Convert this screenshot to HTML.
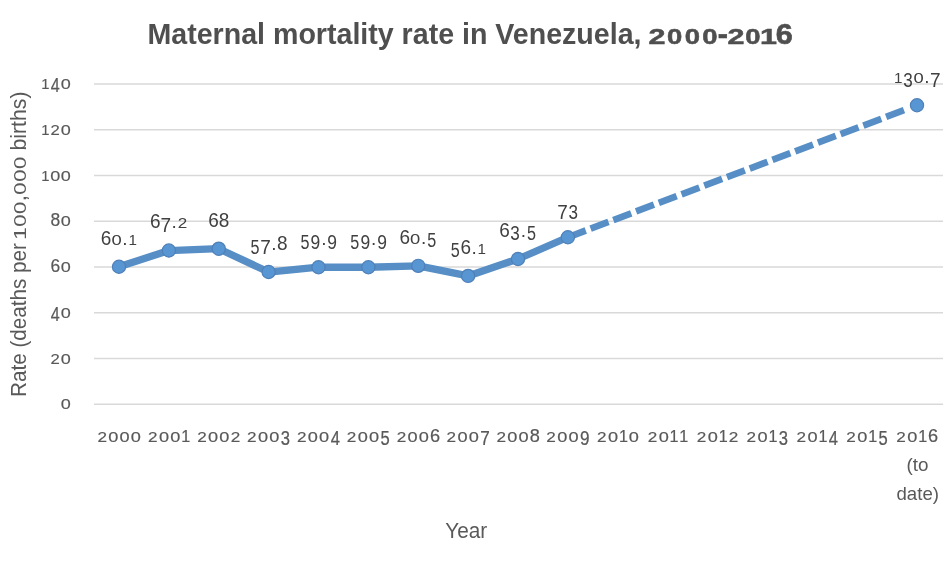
<!DOCTYPE html>
<html><head><meta charset="utf-8"><style>
html,body{margin:0;padding:0;background:#fff;width:946px;height:568px;overflow:hidden}
svg{display:block;will-change:transform;font-family:"Liberation Sans",sans-serif}
</style></head><body>
<svg width="946" height="568" viewBox="0 0 946 568">
<rect width="946" height="568" fill="#fff"/>
<text x="445.2" y="538.2" font-size="22.5" fill="#595959" textLength="42" lengthAdjust="spacingAndGlyphs">Year</text>
<text x="906.5" y="470.7" font-size="19" fill="#595959" textLength="22" lengthAdjust="spacingAndGlyphs">(to</text>
<text x="896.5" y="500" font-size="19" fill="#595959" textLength="42.5" lengthAdjust="spacingAndGlyphs">date)</text>
<line x1="94" y1="84.00" x2="943" y2="84.00" stroke="#d9d9d9" stroke-width="1.6"/>
<line x1="94" y1="129.75" x2="943" y2="129.75" stroke="#d9d9d9" stroke-width="1.6"/>
<line x1="94" y1="175.50" x2="943" y2="175.50" stroke="#d9d9d9" stroke-width="1.6"/>
<line x1="94" y1="221.25" x2="943" y2="221.25" stroke="#d9d9d9" stroke-width="1.6"/>
<line x1="94" y1="267.00" x2="943" y2="267.00" stroke="#d9d9d9" stroke-width="1.6"/>
<line x1="94" y1="312.75" x2="943" y2="312.75" stroke="#d9d9d9" stroke-width="1.6"/>
<line x1="94" y1="358.50" x2="943" y2="358.50" stroke="#d9d9d9" stroke-width="1.6"/>
<line x1="94" y1="404.25" x2="943" y2="404.25" stroke="#d9d9d9" stroke-width="1.6"/>
<path d="M119.00,266.77 L168.88,250.53 L218.75,248.70 L268.62,272.03 L318.50,267.23 L368.38,267.23 L418.25,265.86 L468.12,275.92 L518.00,258.99 L567.88,237.26" fill="none" stroke="#568ec5" stroke-width="7.3" stroke-linejoin="round"/>
<line x1="567.88" y1="237.26" x2="905.50" y2="109.62" stroke="#568ec5" stroke-width="6.7" stroke-dasharray="19.1 5.2"/>
<circle cx="119.00" cy="266.77" r="6.6" fill="#5895d3" stroke="#4f80b8" stroke-width="1.2"/>
<circle cx="168.88" cy="250.53" r="6.6" fill="#5895d3" stroke="#4f80b8" stroke-width="1.2"/>
<circle cx="218.75" cy="248.70" r="6.6" fill="#5895d3" stroke="#4f80b8" stroke-width="1.2"/>
<circle cx="268.62" cy="272.03" r="6.6" fill="#5895d3" stroke="#4f80b8" stroke-width="1.2"/>
<circle cx="318.50" cy="267.23" r="6.6" fill="#5895d3" stroke="#4f80b8" stroke-width="1.2"/>
<circle cx="368.38" cy="267.23" r="6.6" fill="#5895d3" stroke="#4f80b8" stroke-width="1.2"/>
<circle cx="418.25" cy="265.86" r="6.6" fill="#5895d3" stroke="#4f80b8" stroke-width="1.2"/>
<circle cx="468.12" cy="275.92" r="6.6" fill="#5895d3" stroke="#4f80b8" stroke-width="1.2"/>
<circle cx="518.00" cy="258.99" r="6.6" fill="#5895d3" stroke="#4f80b8" stroke-width="1.2"/>
<circle cx="567.88" cy="237.26" r="6.6" fill="#5895d3" stroke="#4f80b8" stroke-width="1.2"/>
<circle cx="917.00" cy="105.27" r="6.6" fill="#5895d3" stroke="#4f80b8" stroke-width="1.2"/>
<g fill="#404040"><text transform="translate(106.03,244.57) scale(1.000,1.0150)" x="-5.28" font-size="19">6</text><text transform="translate(116.59,244.57) scale(0.970,0.7895)" x="-5.28" font-size="19">0</text><text x="122.28" y="244.57" font-size="19">.</text><text transform="translate(132.60,244.57) scale(0.800,0.8195)" x="-5.28" font-size="19">1</text></g>
<g fill="#404040"><text transform="translate(155.27,228.33) scale(1.000,1.0150)" x="-5.28" font-size="19">6</text><text transform="translate(165.84,232.03) scale(1.000,1.1053)" x="-5.28" font-size="19">7</text><text x="171.52" y="228.33" font-size="19">.</text><text transform="translate(182.48,228.33) scale(0.900,0.7895)" x="-5.28" font-size="19">2</text></g>
<g fill="#404040"><text transform="translate(213.47,226.50) scale(1.000,1.0150)" x="-5.28" font-size="19">6</text><text transform="translate(224.03,226.50) scale(1.000,1.0150)" x="-5.28" font-size="19">8</text></g>
<g fill="#404040"><text transform="translate(255.02,253.53) scale(0.850,1.1053)" x="-5.28" font-size="19">5</text><text transform="translate(265.59,253.53) scale(1.000,1.1053)" x="-5.28" font-size="19">7</text><text x="271.27" y="249.83" font-size="19">.</text><text transform="translate(282.23,249.83) scale(1.000,1.0150)" x="-5.28" font-size="19">8</text></g>
<g fill="#404040"><text transform="translate(304.90,248.73) scale(0.850,1.1053)" x="-5.28" font-size="19">5</text><text transform="translate(315.46,248.73) scale(0.920,1.1053)" x="-5.28" font-size="19">9</text><text x="321.14" y="245.03" font-size="19">.</text><text transform="translate(332.11,248.73) scale(0.920,1.1053)" x="-5.28" font-size="19">9</text></g>
<g fill="#404040"><text transform="translate(354.77,248.73) scale(0.850,1.1053)" x="-5.28" font-size="19">5</text><text transform="translate(365.34,248.73) scale(0.920,1.1053)" x="-5.28" font-size="19">9</text><text x="371.02" y="245.03" font-size="19">.</text><text transform="translate(381.98,248.73) scale(0.920,1.1053)" x="-5.28" font-size="19">9</text></g>
<g fill="#404040"><text transform="translate(404.65,243.66) scale(1.000,1.0150)" x="-5.28" font-size="19">6</text><text transform="translate(415.21,243.66) scale(0.970,0.7895)" x="-5.28" font-size="19">0</text><text x="420.89" y="243.66" font-size="19">.</text><text transform="translate(431.86,247.36) scale(0.850,1.1053)" x="-5.28" font-size="19">5</text></g>
<g fill="#404040"><text transform="translate(455.15,257.42) scale(0.850,1.1053)" x="-5.28" font-size="19">5</text><text transform="translate(465.72,253.72) scale(1.000,1.0150)" x="-5.28" font-size="19">6</text><text x="471.40" y="253.72" font-size="19">.</text><text transform="translate(481.73,253.72) scale(0.800,0.8195)" x="-5.28" font-size="19">1</text></g>
<g fill="#404040"><text transform="translate(504.40,236.79) scale(1.000,1.0150)" x="-5.28" font-size="19">6</text><text transform="translate(514.96,240.49) scale(0.900,1.1053)" x="-5.28" font-size="19">3</text><text x="520.64" y="236.79" font-size="19">.</text><text transform="translate(531.61,240.49) scale(0.850,1.1053)" x="-5.28" font-size="19">5</text></g>
<g fill="#404040"><text transform="translate(562.59,218.76) scale(1.000,1.1053)" x="-5.28" font-size="19">7</text><text transform="translate(573.16,218.76) scale(0.900,1.1053)" x="-5.28" font-size="19">3</text></g>
<g fill="#404040"><text transform="translate(898.11,83.07) scale(0.800,0.8195)" x="-5.28" font-size="19">1</text><text transform="translate(908.04,86.77) scale(0.900,1.1053)" x="-5.28" font-size="19">3</text><text transform="translate(918.61,83.07) scale(0.970,0.7895)" x="-5.28" font-size="19">0</text><text x="924.29" y="83.07" font-size="19">.</text><text transform="translate(935.25,86.77) scale(1.000,1.1053)" x="-5.28" font-size="19">7</text></g>
<g fill="#595959" stroke="#595959" stroke-width="0.2"><text transform="translate(45.48,89.20) scale(0.780,0.8195)" x="-5.28" font-size="19">1</text><text transform="translate(55.25,92.20) scale(0.850,1.0677)" x="-5.28" font-size="19">4</text><text transform="translate(65.82,89.20) scale(0.950,0.7895)" x="-5.28" font-size="19">0</text></g>
<g fill="#595959" stroke="#595959" stroke-width="0.2"><text transform="translate(45.48,134.95) scale(0.780,0.8195)" x="-5.28" font-size="19">1</text><text transform="translate(55.25,134.95) scale(0.880,0.7895)" x="-5.28" font-size="19">2</text><text transform="translate(65.82,134.95) scale(0.950,0.7895)" x="-5.28" font-size="19">0</text></g>
<g fill="#595959" stroke="#595959" stroke-width="0.2"><text transform="translate(45.48,180.70) scale(0.780,0.8195)" x="-5.28" font-size="19">1</text><text transform="translate(55.25,180.70) scale(0.950,0.7895)" x="-5.28" font-size="19">0</text><text transform="translate(65.82,180.70) scale(0.950,0.7895)" x="-5.28" font-size="19">0</text></g>
<g fill="#595959" stroke="#595959" stroke-width="0.2"><text transform="translate(55.25,226.45) scale(0.920,0.9925)" x="-5.28" font-size="19">8</text><text transform="translate(65.82,226.45) scale(0.950,0.7895)" x="-5.28" font-size="19">0</text></g>
<g fill="#595959" stroke="#595959" stroke-width="0.2"><text transform="translate(55.25,272.20) scale(0.920,0.9925)" x="-5.28" font-size="19">6</text><text transform="translate(65.82,272.20) scale(0.950,0.7895)" x="-5.28" font-size="19">0</text></g>
<g fill="#595959" stroke="#595959" stroke-width="0.2"><text transform="translate(55.25,320.95) scale(0.850,1.0677)" x="-5.28" font-size="19">4</text><text transform="translate(65.82,317.95) scale(0.950,0.7895)" x="-5.28" font-size="19">0</text></g>
<g fill="#595959" stroke="#595959" stroke-width="0.2"><text transform="translate(55.25,363.70) scale(0.880,0.7895)" x="-5.28" font-size="19">2</text><text transform="translate(65.82,363.70) scale(0.950,0.7895)" x="-5.28" font-size="19">0</text></g>
<g fill="#595959" stroke="#595959" stroke-width="0.2"><text transform="translate(65.82,409.45) scale(0.950,0.7895)" x="-5.28" font-size="19">0</text></g>
<g fill="#595959" stroke="#595959" stroke-width="0.25"><text transform="translate(102.15,442.00) scale(0.850,0.7355)" x="-5.62" font-size="20.2">2</text><text transform="translate(113.38,442.00) scale(0.900,0.7355)" x="-5.62" font-size="20.2">0</text><text transform="translate(124.62,442.00) scale(0.900,0.7355)" x="-5.62" font-size="20.2">0</text><text transform="translate(135.85,442.00) scale(0.900,0.7355)" x="-5.62" font-size="20.2">0</text></g>
<g fill="#595959" stroke="#595959" stroke-width="0.25"><text transform="translate(152.87,442.00) scale(0.850,0.7355)" x="-5.62" font-size="20.2">2</text><text transform="translate(164.10,442.00) scale(0.900,0.7355)" x="-5.62" font-size="20.2">0</text><text transform="translate(175.33,442.00) scale(0.900,0.7355)" x="-5.62" font-size="20.2">0</text><text transform="translate(185.72,442.00) scale(0.800,0.8062)" x="-5.62" font-size="20.2">1</text></g>
<g fill="#595959" stroke="#595959" stroke-width="0.25"><text transform="translate(201.90,442.00) scale(0.850,0.7355)" x="-5.62" font-size="20.2">2</text><text transform="translate(213.13,442.00) scale(0.900,0.7355)" x="-5.62" font-size="20.2">0</text><text transform="translate(224.37,442.00) scale(0.900,0.7355)" x="-5.62" font-size="20.2">0</text><text transform="translate(235.60,442.00) scale(0.850,0.7355)" x="-5.62" font-size="20.2">2</text></g>
<g fill="#595959" stroke="#595959" stroke-width="0.25"><text transform="translate(251.78,442.00) scale(0.850,0.7355)" x="-5.62" font-size="20.2">2</text><text transform="translate(263.01,442.00) scale(0.900,0.7355)" x="-5.62" font-size="20.2">0</text><text transform="translate(274.24,442.00) scale(0.900,0.7355)" x="-5.62" font-size="20.2">0</text><text transform="translate(285.47,444.90) scale(0.820,0.9972)" x="-5.62" font-size="20.2">3</text></g>
<g fill="#595959" stroke="#595959" stroke-width="0.25"><text transform="translate(301.65,442.00) scale(0.850,0.7355)" x="-5.62" font-size="20.2">2</text><text transform="translate(312.88,442.00) scale(0.900,0.7355)" x="-5.62" font-size="20.2">0</text><text transform="translate(324.12,442.00) scale(0.900,0.7355)" x="-5.62" font-size="20.2">0</text><text transform="translate(335.35,444.90) scale(0.820,0.9972)" x="-5.62" font-size="20.2">4</text></g>
<g fill="#595959" stroke="#595959" stroke-width="0.25"><text transform="translate(351.53,442.00) scale(0.850,0.7355)" x="-5.62" font-size="20.2">2</text><text transform="translate(362.76,442.00) scale(0.900,0.7355)" x="-5.62" font-size="20.2">0</text><text transform="translate(373.99,442.00) scale(0.900,0.7355)" x="-5.62" font-size="20.2">0</text><text transform="translate(385.22,444.90) scale(0.820,0.9972)" x="-5.62" font-size="20.2">5</text></g>
<g fill="#595959" stroke="#595959" stroke-width="0.25"><text transform="translate(401.40,442.00) scale(0.850,0.7355)" x="-5.62" font-size="20.2">2</text><text transform="translate(412.63,442.00) scale(0.900,0.7355)" x="-5.62" font-size="20.2">0</text><text transform="translate(423.87,442.00) scale(0.900,0.7355)" x="-5.62" font-size="20.2">0</text><text transform="translate(435.10,442.00) scale(0.900,0.9335)" x="-5.62" font-size="20.2">6</text></g>
<g fill="#595959" stroke="#595959" stroke-width="0.25"><text transform="translate(451.28,442.00) scale(0.850,0.7355)" x="-5.62" font-size="20.2">2</text><text transform="translate(462.51,442.00) scale(0.900,0.7355)" x="-5.62" font-size="20.2">0</text><text transform="translate(473.74,442.00) scale(0.900,0.7355)" x="-5.62" font-size="20.2">0</text><text transform="translate(484.97,444.90) scale(0.850,0.9972)" x="-5.62" font-size="20.2">7</text></g>
<g fill="#595959" stroke="#595959" stroke-width="0.25"><text transform="translate(501.15,442.00) scale(0.850,0.7355)" x="-5.62" font-size="20.2">2</text><text transform="translate(512.38,442.00) scale(0.900,0.7355)" x="-5.62" font-size="20.2">0</text><text transform="translate(523.62,442.00) scale(0.900,0.7355)" x="-5.62" font-size="20.2">0</text><text transform="translate(534.85,442.00) scale(0.900,0.9335)" x="-5.62" font-size="20.2">8</text></g>
<g fill="#595959" stroke="#595959" stroke-width="0.25"><text transform="translate(551.03,442.00) scale(0.850,0.7355)" x="-5.62" font-size="20.2">2</text><text transform="translate(562.26,442.00) scale(0.900,0.7355)" x="-5.62" font-size="20.2">0</text><text transform="translate(573.49,442.00) scale(0.900,0.7355)" x="-5.62" font-size="20.2">0</text><text transform="translate(584.72,444.90) scale(0.850,0.9972)" x="-5.62" font-size="20.2">9</text></g>
<g fill="#595959" stroke="#595959" stroke-width="0.25"><text transform="translate(601.74,442.00) scale(0.850,0.7355)" x="-5.62" font-size="20.2">2</text><text transform="translate(612.98,442.00) scale(0.900,0.7355)" x="-5.62" font-size="20.2">0</text><text transform="translate(623.37,442.00) scale(0.800,0.8062)" x="-5.62" font-size="20.2">1</text><text transform="translate(633.76,442.00) scale(0.900,0.7355)" x="-5.62" font-size="20.2">0</text></g>
<g fill="#595959" stroke="#595959" stroke-width="0.25"><text transform="translate(652.46,442.00) scale(0.850,0.7355)" x="-5.62" font-size="20.2">2</text><text transform="translate(663.69,442.00) scale(0.900,0.7355)" x="-5.62" font-size="20.2">0</text><text transform="translate(674.08,442.00) scale(0.800,0.8062)" x="-5.62" font-size="20.2">1</text><text transform="translate(683.63,442.00) scale(0.800,0.8062)" x="-5.62" font-size="20.2">1</text></g>
<g fill="#595959" stroke="#595959" stroke-width="0.25"><text transform="translate(701.49,442.00) scale(0.850,0.7355)" x="-5.62" font-size="20.2">2</text><text transform="translate(712.73,442.00) scale(0.900,0.7355)" x="-5.62" font-size="20.2">0</text><text transform="translate(723.12,442.00) scale(0.800,0.8062)" x="-5.62" font-size="20.2">1</text><text transform="translate(733.51,442.00) scale(0.850,0.7355)" x="-5.62" font-size="20.2">2</text></g>
<g fill="#595959" stroke="#595959" stroke-width="0.25"><text transform="translate(751.37,442.00) scale(0.850,0.7355)" x="-5.62" font-size="20.2">2</text><text transform="translate(762.60,442.00) scale(0.900,0.7355)" x="-5.62" font-size="20.2">0</text><text transform="translate(772.99,442.00) scale(0.800,0.8062)" x="-5.62" font-size="20.2">1</text><text transform="translate(783.38,444.90) scale(0.820,0.9972)" x="-5.62" font-size="20.2">3</text></g>
<g fill="#595959" stroke="#595959" stroke-width="0.25"><text transform="translate(801.24,442.00) scale(0.850,0.7355)" x="-5.62" font-size="20.2">2</text><text transform="translate(812.48,442.00) scale(0.900,0.7355)" x="-5.62" font-size="20.2">0</text><text transform="translate(822.87,442.00) scale(0.800,0.8062)" x="-5.62" font-size="20.2">1</text><text transform="translate(833.26,444.90) scale(0.820,0.9972)" x="-5.62" font-size="20.2">4</text></g>
<g fill="#595959" stroke="#595959" stroke-width="0.25"><text transform="translate(851.12,442.00) scale(0.850,0.7355)" x="-5.62" font-size="20.2">2</text><text transform="translate(862.35,442.00) scale(0.900,0.7355)" x="-5.62" font-size="20.2">0</text><text transform="translate(872.74,442.00) scale(0.800,0.8062)" x="-5.62" font-size="20.2">1</text><text transform="translate(883.13,444.90) scale(0.820,0.9972)" x="-5.62" font-size="20.2">5</text></g>
<g fill="#595959" stroke="#595959" stroke-width="0.25"><text transform="translate(900.99,442.00) scale(0.850,0.7355)" x="-5.62" font-size="20.2">2</text><text transform="translate(912.23,442.00) scale(0.900,0.7355)" x="-5.62" font-size="20.2">0</text><text transform="translate(922.62,442.00) scale(0.800,0.8062)" x="-5.62" font-size="20.2">1</text><text transform="translate(933.01,442.00) scale(0.900,0.9335)" x="-5.62" font-size="20.2">6</text></g>
<text x="147.5" y="44" font-size="30" font-weight="bold" fill="#4f4f4f" textLength="494" lengthAdjust="spacingAndGlyphs">Maternal mortality rate in Venezuela,</text>
<g fill="#4f4f4f" font-weight="bold" stroke="#4f4f4f" stroke-width="0.7"><text transform="translate(657.10,44.00) scale(1.000,0.7119)" x="-8.48" font-size="30.5">2</text><text transform="translate(674.60,44.00) scale(0.900,0.7119)" x="-8.48" font-size="30.5">0</text><text transform="translate(692.40,44.00) scale(0.900,0.7119)" x="-8.48" font-size="30.5">0</text><text transform="translate(709.80,44.00) scale(0.900,0.7119)" x="-8.48" font-size="30.5">0</text><text x="717.82" y="44.00" font-size="30.5">-</text><text transform="translate(736.00,44.00) scale(1.000,0.7119)" x="-8.48" font-size="30.5">2</text><text transform="translate(752.90,44.00) scale(0.900,0.7119)" x="-8.48" font-size="30.5">0</text><text transform="translate(768.50,44.00) scale(1.000,0.7119)" x="-8.48" font-size="30.5">1</text><text transform="translate(784.20,44.00) scale(1.000,0.9508)" x="-8.48" font-size="30.5">6</text></g>
<g fill="#595959" font-size="22">
<text transform="translate(26.3,397) rotate(-90)" textLength="154" lengthAdjust="spacingAndGlyphs">Rate (deaths per</text>
<g transform="translate(26.3,240) rotate(-90)"><text transform="translate(6.44,0.00) scale(1.030,0.6984)" x="-6.26" font-size="22.5">1</text><text transform="translate(19.33,0.00) scale(0.978,0.6984)" x="-6.26" font-size="22.5">0</text><text transform="translate(32.22,0.00) scale(0.978,0.6984)" x="-6.26" font-size="22.5">0</text><text x="38.66" y="0.00" font-size="22.5">,</text><text transform="translate(51.36,0.00) scale(0.978,0.6984)" x="-6.26" font-size="22.5">0</text><text transform="translate(64.24,0.00) scale(0.978,0.6984)" x="-6.26" font-size="22.5">0</text><text transform="translate(77.13,0.00) scale(0.978,0.6984)" x="-6.26" font-size="22.5">0</text></g>
<text transform="translate(26.3,150.5) rotate(-90)" textLength="59" lengthAdjust="spacingAndGlyphs">births)</text>
</g>
</svg>
</body></html>
